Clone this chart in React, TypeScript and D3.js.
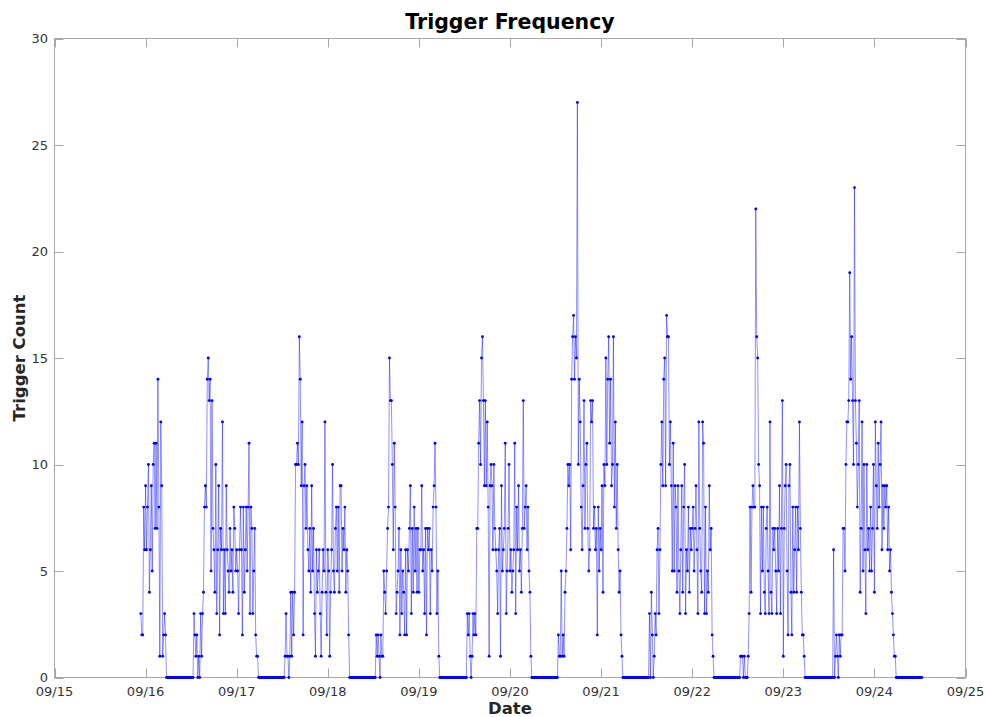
import React from 'react';
import * as d3 from 'd3';

// 15-minute trigger counts, starting 09/15 22:45
const startTime = Date.UTC(2016, 8, 15, 22, 45);
const intervalMinutes = 15;

const night0916 = [3,2,2,8,6,9,6,8,10,4,6,9,5,10,11,7,11,7,14,8,1,12,9,1,2,3,2,
  0,0,0,0,0,0,0,0,0,0,0,0,0,0,0,0,0,0,0,0,0,0,0,0,0,0,0,0,0];
const run0916 = [3,2,1,2,0,1,0,3,1,3,
  4,8,9,8,14,15,13,14,5,13,7,6,4,10,3,6,9,2,7,6,12,3,6,3,9,6,5,4,7,5,6,4,8,7,5,6,5,3,6,8,6,2,8,4,6,8,5,8,11,3,8,7,3,5,7,2,1,1,
  0,0,0,0,0,0,0,0,0,0,0,0,0,0,0,0,0,0,0,0,0,0,0,0,0,0,0,0];
const run0917 = [1,3,1,1,0,1,4,1,4,2,
  4,10,10,11,10,16,14,9,12,2,9,10,7,9,6,5,7,4,9,5,7,3,1,6,4,5,6,3,1,4,6,5,12,4,2,6,5,1,4,6,10,5,4,7,8,5,8,4,9,9,5,7,6,8,4,6,5,2,
  0,0,0,0,0,0,0,0,0,0,0,0,0,0,0,0,0,0,0,0,0,0,0,0,0,0,0,0];
const run0918 = [2,1,2,1,0,2,1,1,
  5,4,3,5,7,8,15,13,13,10,6,11,8,3,4,5,7,2,6,3,5,4,2,6,2,6,5,7,9,3,7,4,8,5,7,4,7,4,6,6,9,5,6,3,7,2,7,6,7,3,6,5,8,9,11,8,3,5,1,
  0,0,0,0,0,0,0,0,0,0,0,0,0,0,0,0,0,0,0,0,0,0,0,0,0,0,0,0,0];
const run0919 = [3,2,3,1,0,1,3,2,3,2,
  7,7,11,13,10,15,16,13,9,13,9,12,8,1,9,10,9,6,10,7,6,5,3,6,7,1,9,5,6,7,11,3,5,7,10,5,6,4,5,6,11,3,8,6,9,5,6,4,7,13,7,8,9,6,8,5,4,1,
  0,0,0,0,0,0,0,0,0,0,0,0,0,0,0,0,0,0,0,0,0,0,0,0,0,0,0,0];
const run0920 = [2,1,1,5,1,2,1,4,5,
  7,10,9,10,6,14,16,17,14,16,15,27,10,14,12,8,6,9,13,7,10,11,7,5,6,13,12,13,7,8,6,7,2,8,5,7,6,9,4,10,9,15,10,14,16,11,14,9,10,16,8,12,7,10,6,4,5,2,1,
  0,0,0,0,0,0,0,0,0,0,0,0,0,0,0,0,0,0,0,0,0,0,0,0,0,0,0,0];
const run0921 = [3,0,4,2,0,1,3,2,6,
  7,3,6,10,12,9,14,15,9,17,16,16,10,12,9,5,11,5,9,8,4,9,5,3,6,9,4,8,10,3,6,5,8,4,7,6,7,8,5,7,9,6,3,12,7,5,4,12,11,3,8,3,5,4,9,6,7,2,1,
  0,0,0,0,0,0,0,0,0,0,0,0,0,0,0,0,0,0,0,0,0,0,0,0,0,0,0,0];
const run0922 = [1,1,1,0,1,0,0,0,1,3,
  8,4,8,9,8,8,22,16,15,10,9,3,8,5,8,4,3,7,8,5,3,12,4,3,7,6,7,5,3,7,5,9,3,7,13,1,7,9,10,5,2,9,10,4,2,8,4,6,8,4,8,6,12,7,4,2,2,1,
  0,0,0,0,0,0,0,0,0,0,0,0,0,0,0,0,0,0,0,0,0,0,0,0,0,0,0,0,0,0];
const run0923 = [6,0,1,2,1,0,2,1,2,
  2,7,7,5,10,12,12,13,19,14,16,13,10,23,13,11,8,10,13,4,7,12,5,10,6,3,10,6,7,5,8,5,7,10,4,12,9,7,11,8,10,12,6,9,7,9,8,9,6,8,5,6,4,3,2,1,1,
  0,0,0,0,0,0,0,0,0,0,0,0,0,0,0,0,0,0,0,0,0,0,0,0,0,0,0,0];

const yTicks = [0, 5, 10, 15, 20, 25, 30];
const xDomain = [new Date(Date.UTC(2016, 8, 15)), new Date(Date.UTC(2016, 8, 25))];

export default function App() {
  const W = 987, H = 717;
  const L = 54.5, R = 965.5, T = 38.5, B = 677.5;
  const series = [...night0916, ...run0916, ...run0917, ...run0918, ...run0919,
    ...run0920, ...run0921, ...run0922, ...run0923];
  const data = series.map((v, i) => ({ t: new Date(startTime + i * intervalMinutes * 60000), v }));
  const x = d3.scaleUtc().domain(xDomain).range([L, R]);
  const y = d3.scaleLinear().domain([0, 30]).range([B, T]);
  const line = d3.line<{ t: Date; v: number }>().x(d => x(d.t)).y(d => y(d.v));
  const xTicks = x.ticks(d3.utcDay.every(1) as any);
  const fmt = d3.utcFormat('%m/%d');
  const axisColor = '#a8a8a8';
  const textColor = '#333333';
  const font = '"DejaVu Sans", sans-serif';
  const tickLen = 9;

  return (
    <svg width={W} height={H} style={{ position: 'absolute', left: 0, top: 0, background: '#fff' }}
      fontFamily={font}>
      <rect x={0} y={0} width={W} height={H} fill="#fff" />
      <rect x={L} y={T} width={R - L} height={B - T} fill="none" stroke={axisColor} strokeWidth={1} />
      {xTicks.map((d, i) => (
        <g key={'xt' + i}>
          <line x1={Math.round(x(d)) + 0.5} x2={Math.round(x(d)) + 0.5} y1={B} y2={B - tickLen} stroke={axisColor} />
          <line x1={Math.round(x(d)) + 0.5} x2={Math.round(x(d)) + 0.5} y1={T} y2={T + tickLen} stroke={axisColor} />
          <text x={x(d)} y={696} textAnchor="middle" fontSize={13} fill={textColor}>{fmt(d)}</text>
        </g>
      ))}
      {yTicks.map((v, i) => (
        <g key={'yt' + i}>
          <line x1={L} x2={L + tickLen} y1={Math.round(y(v)) + 0.5} y2={Math.round(y(v)) + 0.5} stroke={axisColor} />
          <line x1={R} x2={R - tickLen} y1={Math.round(y(v)) + 0.5} y2={Math.round(y(v)) + 0.5} stroke={axisColor} />
          <text x={48} y={y(v) + 4.5} textAnchor="end" fontSize={13} fill={textColor}>{v}</text>
        </g>
      ))}
      <path d={line(data) || ''} fill="none" stroke="#0000ff" strokeOpacity={0.55} strokeWidth={0.8} />
      {data.map((d, i) => (
        <circle key={i} cx={x(d.t)} cy={y(d.v)} r={1.45} fill="#0000ff" />
      ))}
      <text x={(L + R) / 2} y={29} textAnchor="middle" fontSize={20.5} fontWeight="bold" fill="#000">Trigger Frequency</text>
      <text x={(L + R) / 2} y={714} textAnchor="middle" fontSize={16.5} fontWeight="bold" fill="#262626">Date</text>
      <text transform={`translate(25,${(T + B) / 2}) rotate(-90)`} textAnchor="middle" fontSize={16.5} fontWeight="bold" fill="#262626">Trigger Count</text>
    </svg>
  );
}
